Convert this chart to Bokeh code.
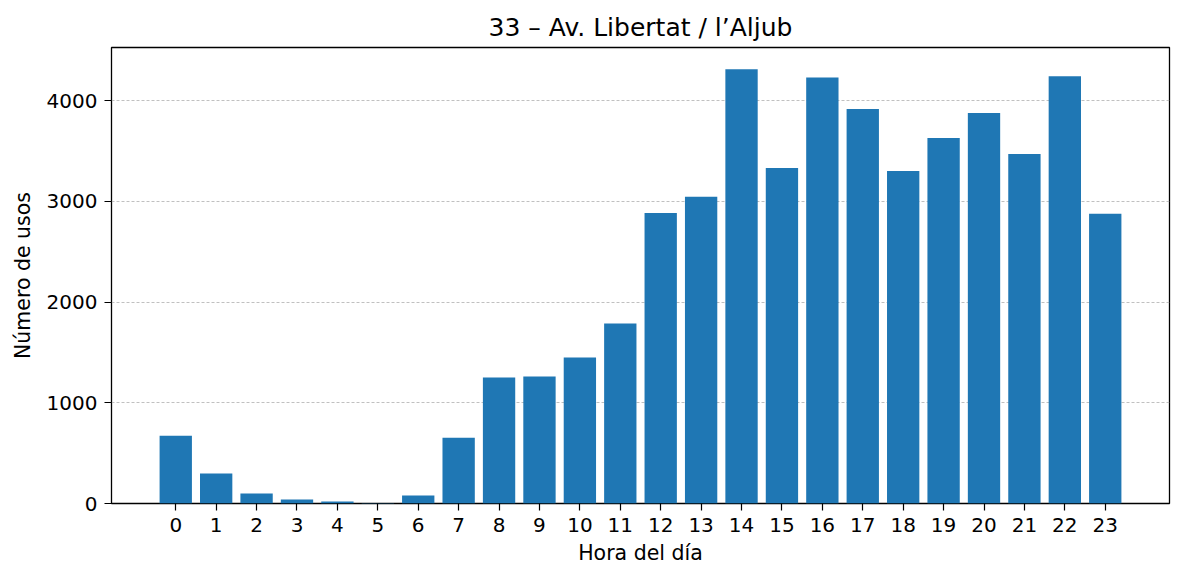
from bokeh.plotting import figure
from bokeh.models import Range1d, FixedTicker, ColumnDataSource
from bokeh.embed import file_html
from bokeh.resources import INLINE

hours = list(range(24))
usos = [673, 297, 99, 40, 20, 5, 80, 652, 1251, 1260, 1449, 1787,
        2884, 3045, 4312, 3332, 4230, 3916, 3302, 3630, 3877, 3470, 4242, 2876]
y_ticks = [0, 1000, 2000, 3000, 4000]
title = "33 – Av. Libertat / l’Aljub"

src = ColumnDataSource(dict(x=hours, top=usos))

p = figure(output_backend="svg", toolbar_location=None,
           x_range=Range1d(-1.59, 24.59), y_range=Range1d(0, max(usos) * 1.05),
           title=title)
p.frame_width = 1058
p.frame_height = 456
p.min_border_left = 111
p.min_border_right = 15
p.min_border_top = 47
p.min_border_bottom = 78

p.vbar(x="x", top="top", width=0.8, bottom=0, source=src,
       fill_color="#1f77b4", line_color=None)

FONT = "DejaVu Sans"
p.title.text_font = FONT
p.title.text_font_size = "25px"
p.title.text_font_style = "normal"
p.title.align = "center"
p.title.text_color = "black"
p.title.standoff = 12

for ax in (p.xaxis[0], p.yaxis[0]):
    ax.major_label_text_font = FONT
    ax.major_label_text_font_size = "20px"
    ax.major_label_text_color = "black"
    ax.axis_label_text_font = FONT
    ax.axis_label_text_font_size = "20.5px"
    ax.axis_label_text_font_style = "normal"
    ax.axis_label_text_color = "black"
    ax.axis_line_color = None
    ax.major_tick_line_color = "black"
    ax.major_tick_line_width = 1.2
    ax.major_tick_in = 0
    ax.major_tick_out = 7
    ax.minor_tick_line_color = None
    ax.major_label_standoff = 7

p.xaxis.axis_label = "Hora del día"
p.yaxis.axis_label = "Número de usos"
p.xaxis.ticker = FixedTicker(ticks=hours)
p.yaxis.ticker = FixedTicker(ticks=y_ticks)
p.xaxis.axis_label_standoff = 6
p.yaxis.axis_label_standoff = 9

p.xgrid.grid_line_color = None
p.ygrid.grid_line_color = "#b0b0b0"
p.ygrid.grid_line_width = 0.8
p.ygrid.grid_line_dash = "3 2"

p.outline_line_color = "black"
p.outline_line_width = 1.3
p.background_fill_color = "white"
p.border_fill_color = "white"

open("out.html", "w").write(file_html(p, INLINE))
